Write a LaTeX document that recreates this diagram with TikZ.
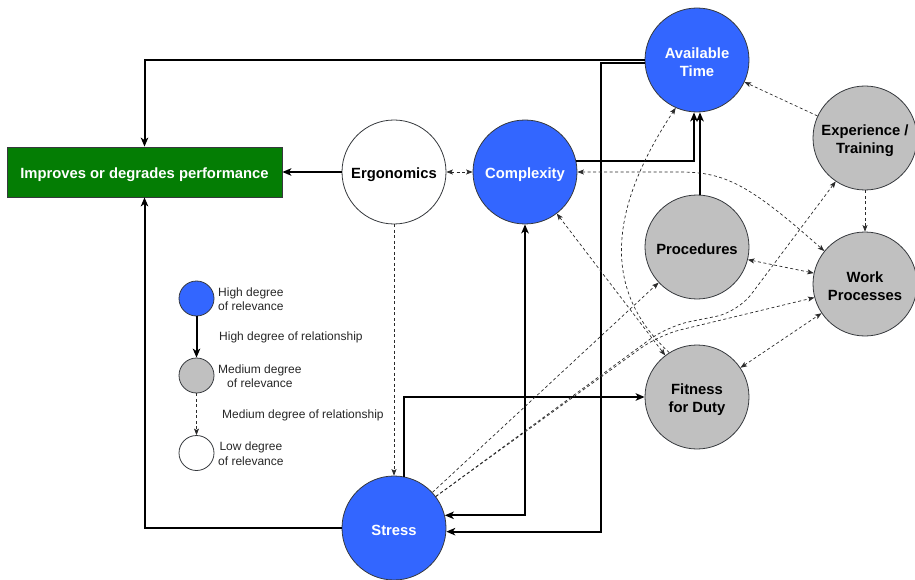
\documentclass[tikz,border=0pt]{standalone}
\usepackage{fontspec}
\setmainfont{Liberation Sans}
\usetikzlibrary{arrows.meta}
\definecolor{nodeblue}{HTML}{3366FF}
\definecolor{nodegray}{HTML}{C0C0C0}
\definecolor{perfgreen}{HTML}{047D04}
\definecolor{rim}{HTML}{36393D}
\definecolor{dashink}{HTML}{2A2A2A}

\begin{document}
\begin{tikzpicture}[x=1pt,y=-1pt,
  captext/.style={align=center, inner sep=0pt, yshift=-2.5pt,
    font=\fontsize{14.8}{18}\selectfont\bfseries},
  factor/.style={circle, draw=rim, line width=0.8pt, minimum size=104pt, inner sep=0pt},
  high/.style={factor, fill=nodeblue, label={[captext, text=white]center:{#1}}},
  medium/.style={factor, fill=nodegray, label={[captext, text=black]center:{#1}}},
  low/.style={factor, fill=white, label={[captext, text=black]center:{#1}}},
  keydot/.style={circle, draw=rim, line width=0.8pt, minimum size=35pt, inner sep=0pt},
  keytext/.style={font=\fontsize{12}{14.5}\selectfont, text=black!85, inner sep=0pt},
  strongline/.style={line width=2pt, >={Stealth[length=9pt,width=7.5pt,inset=2.5pt]}},
  weakline/.style={line width=0.7pt, draw=dashink, dash pattern=on 3pt off 2.5pt,
    >={Stealth[length=6.5pt,width=5pt,inset=1.5pt]}},
]
\useasboundingbox (0,0) rectangle (915,580);

% outcome box
\node[draw=rim, line width=0.8pt, fill=perfgreen, minimum width=275pt, minimum height=50pt,
  label={[captext, text=white]center:{Improves or degrades performance}}]
  (perf) at (144.5,172) {};

% factors
\node[high={Available\\Time}]     (avail)   at (697,60)  {};
\node[high={Complexity}]          (complex) at (525,172) {};
\node[low={Ergonomics}]           (ergo)    at (394,172) {};
\node[medium={Experience /\\Training}] (exp) at (865,138) {};
\node[medium={Procedures}]        (proc)    at (697,247) {};
\node[medium={Work\\Processes}]   (wp)      at (865,284) {};
\node[medium={Fitness\\for Duty}] (fit)     at (697,397) {};
\node[high={Stress}]              (stress)  at (394,528) {};

\coordinate (bendA) at (601,63);

% strong relationships
\draw[strongline,->] (avail.west) -| (perf.north);
\draw[strongline,->] (stress.west) -| (perf.south);
\draw[strongline,->] (ergo.west) -- (perf.east);
\draw[strongline,->] ([yshift=-3pt]avail.west) -- (bendA) |- (stress.-4.4);
\draw[strongline,<->] (stress.14.5) -| (complex.south);
\draw[strongline,->] (complex.12) -| ([xshift=-3pt]avail.south);
\draw[strongline,->] ([xshift=3pt]proc.north) -- ([xshift=3pt]avail.south);
\draw[strongline,->] (stress.79) |- (fit.west);

% medium relationships
\draw[weakline,<->] (ergo.east) -- (complex.west);
\draw[weakline,->] (ergo.south) -- (stress.north);
\draw[weakline,->] (exp) -- (avail);
\draw[weakline,->] (exp.south) -- (wp.north);
\draw[weakline,<->] (proc.-14) -- (wp.168);
\draw[weakline,<->] (fit) -- (wp);
\draw[weakline,<->] (complex) -- (fit);
\draw[weakline,->] (stress) -- (proc);
\draw[weakline,<->] (complex.east) -- (680,172) .. controls (725,172) and (750,185) .. (wp.141);
\draw[weakline,->] (fit.122) .. controls (612,300) and (598,225) .. (avail.246);
\draw[weakline,->,rounded corners=22pt] (stress.37) -- (668,326) -- (738,312) -- (exp.236);
\draw[weakline,->,rounded corners=22pt] (stress.37) -- (659,335) -- (wp.195);

% key
\node[keydot, fill=nodeblue] (kblue)  at (196.5,298.5) {};
\node[keydot, fill=nodegray] (kgray)  at (196.5,375.5) {};
\node[keydot, fill=white]    (kwhite) at (196.5,453)   {};
\draw[strongline,->] (kblue) -- (kgray);
\draw[weakline,->] (kgray) -- (kwhite);
\node[keytext, anchor=west, align=center] (kblueT)  at (218,299)  {High degree\\of relevance};
\node[keytext, anchor=west, align=center] (kgrayT)  at (218,376)  {Medium degree\\of relevance};
\node[keytext, anchor=west, align=center] (kwhiteT) at (218,453.5){Low degree\\of relevance};
\node[keytext, anchor=west] (kstrongT) at (219,337) {High degree of relationship};
\node[keytext, anchor=west] (kweakT)   at (222,415) {Medium degree of relationship};
\end{tikzpicture}
\end{document}
